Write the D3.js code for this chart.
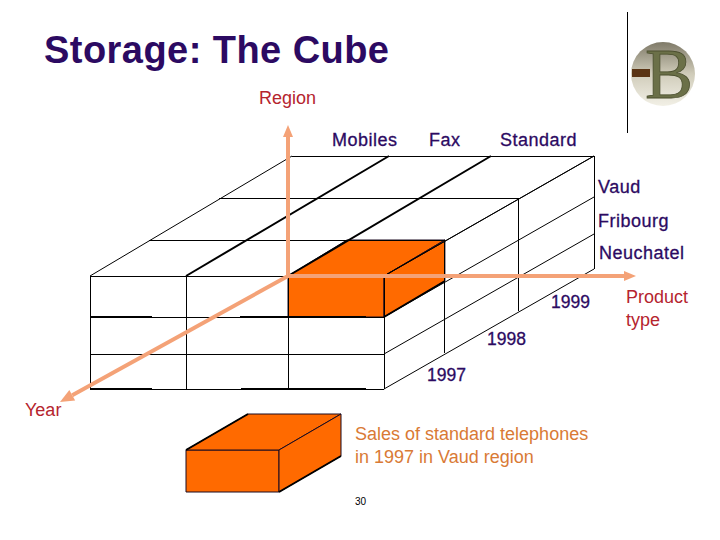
<!DOCTYPE html>
<html>
<head>
<meta charset="utf-8">
<script src="https://cdn.jsdelivr.net/npm/d3@7"></script>
<style>
body { margin: 0; background: #fff; }
text { font-family: "Liberation Sans", Arial, sans-serif; }
</style>
</head>
<body>
<svg width="720" height="540"></svg>
<script>
var products = ['Mobiles', 'Fax', 'Standard']
var regions = ['Vaud', 'Fribourg', 'Neuchatel']
var years = ['1999', '1998', '1997']
var selected = { product: 'Standard', region: 'Vaud', year: '1997' }
var caption = ['Sales of standard telephones', 'in 1997 in Vaud region']
var pageNumber = '30'

var svg = d3.select('svg')
var purple = '#2c0a62', red = '#b5242e', orange = '#ff6a00', salmon = '#f4a277'

// grid edges: front face, back face, and how far back each year slice sits
var edge = [0, 1, 2, 3]
var xFront = d3.scaleLinear().domain(edge).range([90, 186, 288, 384])
var yFront = d3.scaleLinear().domain(edge).range([276, 317, 354, 389])
var xBack = d3.scaleLinear().domain(edge).range([292, 389, 491, 594])
var tDepth = d3.scaleLinear().domain(edge).range([0, 0.29, 0.64, 1])
var yDepth = d3.scaleLinear().domain(edge).range([0, -36, -78, -120])

// p = product edge, r = region edge, d = depth edge
var pt = function(p, r, d) {
  return [xFront(p) + (xBack(p) - xFront(p)) * tDepth(d), yFront(r) + yDepth(d)]
}
var line = d3.line()
var draw = function(a, b, w) {
  var straight = a[0] == b[0] || a[1] == b[1]
  svg.append('path').attr('d', line([a, b]))
    .attr('stroke', '#000').attr('stroke-width', w || 1).attr('fill', 'none')
    .attr('shape-rendering', straight ? 'crispEdges' : 'auto')
}

var arrow = function(from, to, head, wide) {
  var a = Math.atan2(to[1] - from[1], to[0] - from[0])
  var base = [to[0] - head * Math.cos(a), to[1] - head * Math.sin(a)]
  svg.append('path').attr('d', line([from, base]))
    .attr('stroke', salmon).attr('stroke-width', 4).attr('fill', 'none')
  svg.append('path')
    .attr('d', line([to,
      [base[0] - wide * Math.sin(a), base[1] + wide * Math.cos(a)],
      [base[0] + wide * Math.sin(a), base[1] - wide * Math.cos(a)]]) + 'Z')
    .attr('fill', salmon)
}

// selected cell
var pi = products.indexOf(selected.product)
var ri = regions.indexOf(selected.region)
var faces = [
  [pt(pi, ri, 0), pt(pi + 1, ri, 0), pt(pi + 1, ri + 1, 0), pt(pi, ri + 1, 0)],
  [pt(pi, ri, 0), pt(pi + 1, ri, 0), pt(pi + 1, ri, 1), pt(pi, ri, 1)],
  [pt(pi + 1, ri, 0), pt(pi + 1, ri, 1), pt(pi + 1, ri + 1, 1), pt(pi + 1, ri + 1, 0)]
]
svg.selectAll('.cell').data(faces).enter().append('path')
  .attr('class', 'cell')
  .attr('d', function(d) { return line(d) + 'Z' })
  .attr('fill', orange)
  .attr('stroke', '#1a0a20')

// grid
edge.forEach(function(i) {
  draw(pt(i, 0, 0), pt(i, 3, 0))             // front verticals
  draw(pt(0, i, 0), pt(3, i, 0))             // front horizontals
  draw(pt(3, i, 0), pt(3, i, 3))             // right side, along depth
  draw(pt(0, 0, i), pt(3, 0, i))             // top, across
  draw(pt(3, 0, i), pt(3, 3, i))             // right side, verticals
  draw(pt(i, 0, 0), pt(i, 0, 3), i == 1 || i == 2 ? 2 : 1) // top, along depth
})
draw(pt(3, 1, 0), pt(3, 1, 1), 2)
draw(pt(0, 1, 0), [152, yFront(1)], 2)
draw([240, yFront(1)], [366, yFront(1)], 2)
draw(pt(0, 3, 0), [152, yFront(3)], 2)
draw([241, yFront(3)], [366, yFront(3)], 2)

arrow([288, 276], [288, 125], 12, 5)
arrow([288, 276], [636, 276], 12, 5)
arrow([288, 276], [60, 402], 14, 6)

// text
var label = function(s, x, y, size, color, weight, spacing, stroke) {
  return svg.append('text').text(s).attr('x', x).attr('y', y)
    .attr('font-size', size).attr('fill', color)
    .attr('font-weight', weight || 'normal')
    .attr('letter-spacing', spacing || 0)
    .attr('stroke', stroke ? color : 'none')
    .attr('stroke-width', stroke || 0)
}
label('Storage: The Cube', 44, 63, 38, purple, 'bold', 0.45)
label('Region', 259, 104, 18, red)
var productX = d3.scaleOrdinal().domain(products).range([332, 429, 500])
products.forEach(function(d) { label(d, productX(d), 146, 18, purple, 'normal', 0.5, 0.3) })
var regionY = d3.scaleOrdinal().domain(regions).range([193, 227, 259])
var regionX = d3.scaleOrdinal().domain(regions).range([598, 598, 599])
regions.forEach(function(d) { label(d, regionX(d), regionY(d), 18, purple, 'normal', 0.5, 0.3) })
var yearX = d3.scaleOrdinal().domain(years).range([551, 487, 427])
var yearY = d3.scaleOrdinal().domain(years).range([308, 345, 381])
years.forEach(function(d) { label(d, yearX(d), yearY(d), 17.5, purple, 'normal', 0, 0.3) })
label('Product', 626, 303, 18, red)
label('type', 626, 326, 18, red)
label('Year', 25, 416, 18, red)
caption.forEach(function(d, i) { label(d, 355, 440 + i * 23, 18, '#d97a35') })
label(pageNumber, 355, 505, 10, '#000')

// small cube next to the caption
var xSmall = d3.scaleLinear().domain([0, 1]).range([186, 279])
var ySmall = d3.scaleLinear().domain([0, 1]).range([450, 492])
var sp = function(p, r, d) {
  return [xSmall(p) + d * 62, ySmall(r) - d * 36]
}
var smallFaces = [
  [sp(0, 0, 0), sp(1, 0, 0), sp(1, 1, 0), sp(0, 1, 0)],
  [sp(0, 0, 0), sp(1, 0, 0), sp(1, 0, 1), sp(0, 0, 1)],
  [sp(1, 0, 0), sp(1, 0, 1), sp(1, 1, 1), sp(1, 1, 0)]
]
svg.selectAll('.small').data(smallFaces).enter().append('path')
  .attr('class', 'small')
  .attr('d', function(d) { return line(d) + 'Z' })
  .attr('fill', orange)
  .attr('stroke', '#1a0a20')
draw(sp(0, 0, 0), sp(0, 0, 1), 2)
draw(sp(1, 1, 0), sp(1, 1, 1), 2)

// logo
draw([627, 12], [627, 133], 1)
var defs = svg.append('defs')
var grad = defs.append('linearGradient').attr('id', 'logo')
  .attr('x1', 0).attr('x2', 0).attr('y1', 0).attr('y2', 1)
grad.append('stop').attr('offset', 0).attr('stop-color', '#7f7a68')
grad.append('stop').attr('offset', 0.5).attr('stop-color', '#d0ccba')
grad.append('stop').attr('offset', 1).attr('stop-color', '#f2f0e6')
svg.append('circle').attr('cx', 663).attr('cy', 74).attr('r', 32).attr('fill', 'url(#logo)')
svg.append('rect').attr('x', 632).attr('y', 69).attr('width', 18).attr('height', 8).attr('fill', '#5a3414')
svg.append('text').text('B').attr('x', 645).attr('y', 98)
  .attr('font-size', 72).attr('fill', '#6b7048').attr('stroke', '#4c5030').attr('stroke-width', 0.8)
  .style('font-family', '"Liberation Serif", serif')
</script>
</body>
</html>
